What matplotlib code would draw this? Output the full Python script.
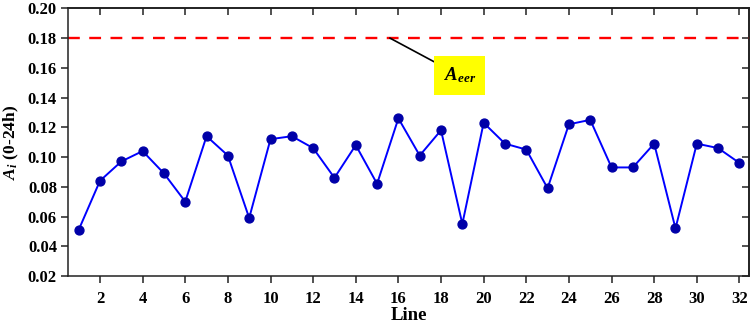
import matplotlib
matplotlib.use('Agg')
import matplotlib.pyplot as plt

plt.rcParams['font.family'] = 'Liberation Serif'
plt.rcParams['font.weight'] = 'bold'
plt.rcParams['mathtext.fontset'] = 'custom'
plt.rcParams['mathtext.rm'] = 'Liberation Serif:bold'
plt.rcParams['mathtext.it'] = 'Liberation Serif:italic:bold'
plt.rcParams['mathtext.bf'] = 'Liberation Serif:bold'
plt.rcParams['mathtext.bfit'] = 'Liberation Serif:italic:bold'

# valores
linhas = list(range(1, 33))
a_i = [0.051, 0.084, 0.097, 0.104, 0.089, 0.070, 0.114, 0.101,
       0.059, 0.112, 0.114, 0.106, 0.086, 0.108, 0.082, 0.126,
       0.101, 0.118, 0.055, 0.123, 0.109, 0.105, 0.079, 0.122,
       0.125, 0.093, 0.093, 0.109, 0.052, 0.109, 0.106, 0.096]
a_eer = 0.18
x_ticks = list(range(2, 33, 2))
y_ticks = [0.02, 0.04, 0.06, 0.08, 0.10, 0.12, 0.14, 0.16, 0.18, 0.20]

fig = plt.figure(figsize=(7.54, 3.26), dpi=100)
ax = fig.add_axes([0.0902, 0.1534, 0.9032, 0.8211])

ax.axhline(a_eer, color='#ff0000', lw=1.7, dashes=(5, 4), zorder=2)
ax.plot(linhas, a_i, color='#0000ff', lw=1.4, marker='o', markersize=6.4,
        markerfacecolor='#0000a8', markeredgecolor='#0000a8', zorder=3)

ax.annotate(r'$\mathbfit{A}_{\mathbfit{eer}}$', xy=(15.6, a_eer), xytext=(18.88, 0.1548),
            ha='center', va='center', fontsize=13.5,
            bbox=dict(boxstyle='square,pad=0.5', facecolor='#ffff00', edgecolor='none'),
            arrowprops=dict(arrowstyle='-', color='black', lw=1.2, shrinkA=0, shrinkB=0))

ax.set_xlim(0.5, 32.45)
ax.set_ylim(0.02, 0.20)
ax.set_xticks(x_ticks)
ax.set_yticks(y_ticks)
ax.set_yticklabels(['%.2f' % v for v in y_ticks])

ax.tick_params(axis='both', which='both', labelsize=12, length=5, width=1.1,
               color='#222222', direction='out')
ax.tick_params(axis='x', pad=6)
ax.tick_params(axis='y', pad=3)
# ticks internos no topo e à direita
ax_top = ax.secondary_xaxis('top')
ax_top.set_xticks(x_ticks)
ax_top.tick_params(direction='in', length=5, width=1.1, color='#222222', labeltop=False)
ax_right = ax.secondary_yaxis('right')
ax_right.set_yticks(y_ticks)
ax_right.tick_params(direction='in', length=5, width=1.1, color='#222222', labelright=False)

for sp in ax.spines.values():
    sp.set_linewidth(1.1)
    sp.set_color('#222222')
ax_top.spines['top'].set_linewidth(1.1)
ax_right.spines['right'].set_linewidth(1.1)

ax.set_xlabel('Line', fontsize=13.5, fontweight='bold', labelpad=0)
ax.set_ylabel(r'$\mathbfit{A}_{\mathbfit{i}}$ (0-24h)', fontsize=12.5, fontweight='bold')
ax.yaxis.set_label_coords(-0.069, 0.5)

fig.savefig('out.png', dpi=100)
